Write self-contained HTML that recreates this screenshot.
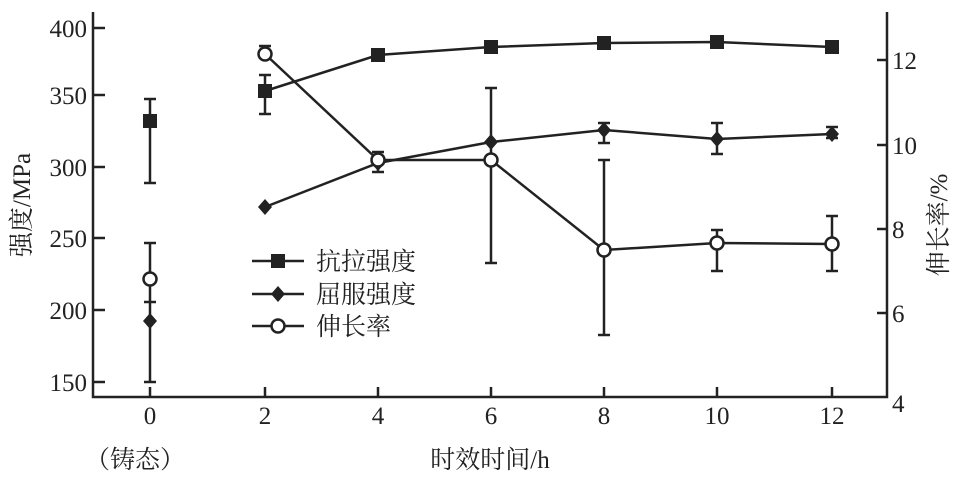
<!DOCTYPE html><html><head><meta charset="utf-8"><style>body{margin:0;background:#fff}svg{display:block}text{font-family:"Liberation Serif","Noto Serif CJK SC",serif;fill:#222}</style></head><body>
<svg width="959" height="502" viewBox="0 0 959 502">
<g stroke="#222" stroke-width="2.5" fill="none">
<path d="M93,12V397H887V12"/>
<path d="M93,28h12M93,95h12M93,167h12M93,238h12M93,310h12M93,382h12"/>
<path d="M887,60h-10M887,145h-10M887,229h-10M887,313h-10"/>
<path d="M150,397v-10M265,397v-10M378,397v-10M491,397v-10M604,397v-10M717,397v-10M832,397v-10"/>
</g>
<g font-size="25" text-anchor="end">
<text x="87" y="37">400</text><text x="87" y="104">350</text><text x="87" y="176">300</text><text x="87" y="247">250</text><text x="87" y="319">200</text><text x="87" y="391">150</text></g>
<g font-size="25" text-anchor="start">
<text x="892" y="69">12</text><text x="892" y="154">10</text><text x="892" y="238">8</text><text x="892" y="322">6</text><text x="892" y="412">4</text></g>
<g font-size="25" text-anchor="middle">
<text x="150" y="424">0</text><text x="265" y="424">2</text><text x="378" y="424">4</text><text x="491" y="424">6</text><text x="604" y="424">8</text><text x="717" y="424">10</text><text x="832" y="424">12</text>
<text x="135" y="468">（铸态）</text><text x="490" y="468">时效时间/h</text></g>
<text font-size="25" transform="translate(30,205) rotate(-90)" text-anchor="middle">强度/MPa</text>
<text font-size="25" transform="translate(947,225) rotate(-90)" text-anchor="middle">伸长率/%</text>
<g stroke="#222" stroke-width="2.5" fill="none">
<path d="M150,99V183M144,99h12M144,183h12"/>
<path d="M150,243V382M144,243h12M144,382h12M144,302h12"/>
<path d="M265,75V114M259,75h12M259,114h12"/>
<path d="M265,46V54M259,46h12"/>
<path d="M378,152V172M372,152h12M372,172h12"/>
<path d="M491,88V263M485,88h12M485,263h12"/>
<path d="M604,160V335M598,160h12M598,335h12M598,123h12M598,143h12M604,123V143"/>
<path d="M717,230V271M711,230h12M711,271h12M717,123V154M711,123h12M711,154h12"/>
<path d="M832,216V271M826,216h12M826,271h12M832,127V138M826,127h12M826,138h12"/>
<polyline points="265,91 378,55 491,47 604,43 717,42 832,47"/>
<polyline points="265,207 378,163 491,142 604,130 717,139 832,134"/>
<polyline points="265,54 378,160 491,160 604,250 717,243 832,244"/>
<path d="M252,261h52M252,294h52M252,326h52"/>
</g>
<g fill="#222">
<rect x="143" y="114" width="14" height="14"/><rect x="258" y="84" width="14" height="14"/><rect x="371" y="48" width="14" height="14"/><rect x="484" y="40" width="14" height="14"/><rect x="597" y="36" width="14" height="14"/><rect x="710" y="35" width="14" height="14"/><rect x="825" y="40" width="14" height="14"/><rect x="271" y="254" width="14" height="14"/>
<path d="M150,313l7,8-7,8-7-8z"/><path d="M265,199l7,8-7,8-7-8z"/><path d="M378,155l7,8-7,8-7-8z"/><path d="M491,134l7,8-7,8-7-8z"/><path d="M604,122l7,8-7,8-7-8z"/><path d="M717,131l7,8-7,8-7-8z"/><path d="M832,126l7,8-7,8-7-8z"/><path d="M278,286l7,8-7,8-7-8z"/>
</g>
<g fill="#fff" stroke="#222" stroke-width="2.5">
<circle cx="150" cy="279" r="6.5"/><circle cx="265" cy="54" r="6.5"/><circle cx="378" cy="160" r="6.5"/><circle cx="491" cy="160" r="6.5"/><circle cx="604" cy="250" r="6.5"/><circle cx="717" cy="243" r="6.5"/><circle cx="832" cy="244" r="6.5"/><circle cx="278" cy="326" r="6.5"/>
</g>
<g font-size="25"><text x="316" y="270">抗拉强度</text><text x="316" y="303">屈服强度</text><text x="316" y="335">伸长率</text></g>
</svg></body></html>
